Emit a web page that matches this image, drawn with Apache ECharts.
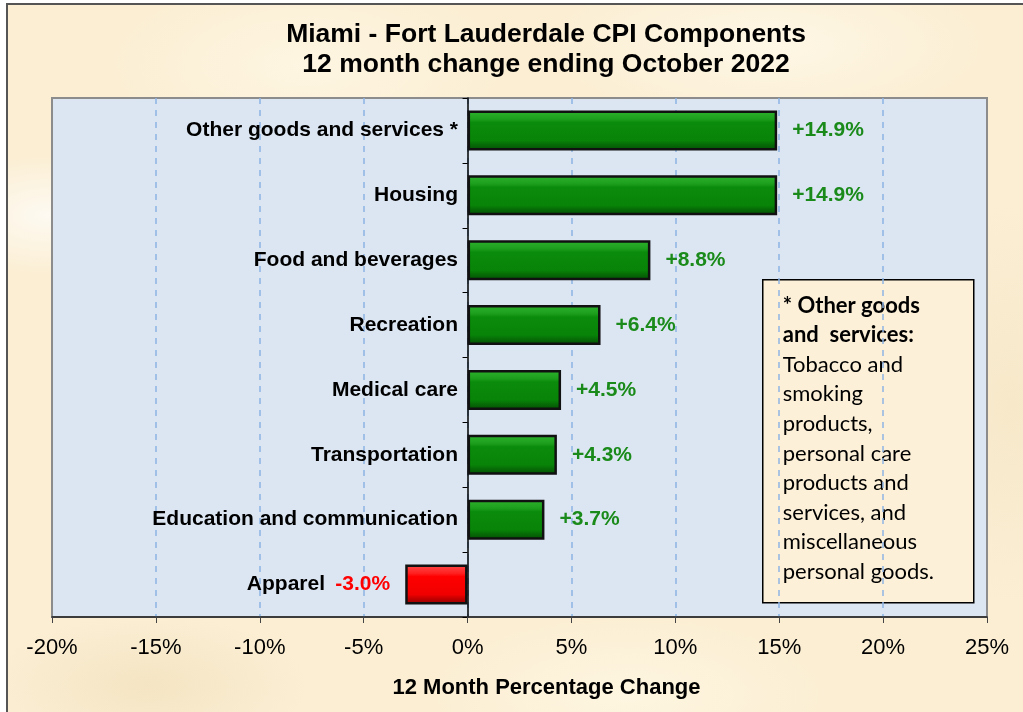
<!DOCTYPE html>
<html>
<head>
<meta charset="utf-8">
<script src="https://cdn.jsdelivr.net/npm/echarts@6/dist/echarts.min.js"></script>
<style>
  html, body { margin: 0; padding: 0; background: #fff; overflow: hidden; }
  #bg {
    position: absolute; left: 6px; top: 3px; width: 1100px; height: 800px;
    border-left: 2px solid #555; border-top: 2px solid #555;
    background-color: #fbeed3;
    background-image:
      radial-gradient(ellipse 120px 60px at 40px 210px, rgba(255,255,255,0.7), rgba(255,255,255,0)),
      radial-gradient(ellipse 200px 90px at 300px 60px, rgba(255,248,230,0.8), rgba(255,255,255,0)),
      radial-gradient(ellipse 220px 80px at 760px 40px, rgba(255,250,235,0.8), rgba(255,255,255,0)),
      radial-gradient(ellipse 160px 70px at 140px 680px, rgba(240,222,185,0.6), rgba(255,255,255,0)),
      radial-gradient(ellipse 200px 80px at 620px 690px, rgba(255,248,228,0.8), rgba(255,255,255,0)),
      radial-gradient(ellipse 120px 200px at 1005px 400px, rgba(244,228,195,0.6), rgba(255,255,255,0));
  }
  #main { position: absolute; left: 0; top: 0; width: 1023px; height: 712px; }
</style>
</head>
<body>
<div id="bg"></div>
<div id="main"></div>
<script>
  // 数据
  const categories = [
    'Other goods and services *',
    'Housing',
    'Food and beverages',
    'Recreation',
    'Medical care',
    'Transportation',
    'Education and communication',
    'Apparel'
  ];
  const changes = [14.9, 14.9, 8.8, 6.4, 4.5, 4.3, 3.7, -3.0];
  const noteLines = [
    '* Other goods', 'and  services:',
    'Tobacco and', 'smoking', 'products,', 'personal care',
    'products and', 'services, and', 'miscellaneous', 'personal goods.'
  ];

  const FONT = '"Liberation Sans", Arial, sans-serif';

  const greenFill = new echarts.graphic.LinearGradient(0, 0, 0, 1, [
    {offset: 0, color: '#2fb52f'},
    {offset: 0.22, color: '#1c9e1c'},
    {offset: 0.3, color: '#0b8b0b'},
    {offset: 0.75, color: '#088408'},
    {offset: 0.85, color: '#066c06'},
    {offset: 1, color: '#044f04'}
  ]);
  const redFill = new echarts.graphic.LinearGradient(0, 0, 0, 1, [
    {offset: 0, color: '#ff4a4a'},
    {offset: 0.22, color: '#ff2020'},
    {offset: 0.3, color: '#ff0000'},
    {offset: 0.75, color: '#f00000'},
    {offset: 0.85, color: '#c40000'},
    {offset: 1, color: '#8e0000'}
  ]);

  /* 方法：格式化数值标签 */
  function fmtPct(v) {
    return (v > 0 ? '+' : '') + v.toFixed(1) + '%';
  }

  const barData = changes.map(v => ({
    value: v,
    itemStyle: {color: v < 0 ? redFill : greenFill},
    label: {
      position: v < 0 ? 'left' : 'right',
      color: v < 0 ? '#ff0000' : '#1a8a1a'
    }
  }));

  const noteText = noteLines.map((t, i) => (i < 2 ? '{b|' : '{n|') + t + '}').join('\n');

  const chart = echarts.init(document.getElementById('main'), null, {renderer: 'canvas'});
  chart.setOption({
    backgroundColor: 'transparent',
    animation: false,
    title: {
      text: 'Miami - Fort Lauderdale CPI Components\n12 month change ending October 2022',
      left: 546,
      top: 20,
      padding: 0,
      textAlign: 'center',
      textStyle: {
        fontFamily: FONT, fontSize: 26.5, fontWeight: 'bold', color: '#000', lineHeight: 30
      }
    },
    grid: {
      left: 52, right: 36, top: 98, bottom: 95,
      containLabel: false,
      outerBoundsMode: 'none',
      show: true,
      backgroundColor: '#dce6f2',
      borderColor: '#8c8c8c',
      borderWidth: 2
    },
    xAxis: {
      type: 'value',
      min: -20, max: 25, interval: 5,
      name: '12 Month Percentage Change',
      nameLocation: 'middle',
      nameGap: 60,
      nameTextStyle: {
        fontFamily: FONT, fontSize: 22, fontWeight: 'bold', color: '#000', padding: [0, 0, 0, 54]
      },
      axisLine: {show: true, lineStyle: {color: '#222', width: 1.5}},
      axisTick: {show: true, length: 6, lineStyle: {color: '#444'}},
      axisLabel: {
        formatter: '{value}%', fontFamily: FONT, fontSize: 22, color: '#000', margin: 20
      },
      splitLine: {
        show: true, showMinLine: false, showMaxLine: false,
        lineStyle: {color: '#8db4e3', width: 1.5, type: [6, 6]}
      }
    },
    yAxis: {
      type: 'category',
      data: categories,
      inverse: true,
      axisLine: {onZero: true, lineStyle: {color: '#000', width: 1.5}},
      axisTick: {show: true, length: 5, lineStyle: {color: '#000'}},
      axisLabel: {
        // 标签贴在 0% 线左侧
        fontFamily: FONT, fontSize: 21, fontWeight: 'bold', color: '#000', margin: -406,
        formatter: (value, index) => changes[index] < 0 ? '{neg|' + value + '}' : value,
        rich: {
          neg: {fontFamily: FONT, fontSize: 21, fontWeight: 'bold', color: '#000', padding: [0, 133, 0, 0]}
        }
      },
      splitLine: {show: false}
    },
    series: [{
      type: 'bar',
      data: barData,
      barWidth: 40,
      itemStyle: {borderColor: '#111', borderWidth: 2.5},
      label: {
        show: true,
        distance: 15,
        fontFamily: FONT, fontSize: 21, fontWeight: 'bold',
        formatter: p => fmtPct(p.value)
      }
    }],
    graphic: [{
      type: 'group',
      left: 762, top: 279,
      children: [{
        type: 'rect',
        shape: {x: 0, y: 0, width: 211, height: 323},
        style: {fill: '#fcf0d8', stroke: '#000', lineWidth: 1.5}
      }, {
        type: 'text',
        x: 20, y: 11,
        style: {
          text: noteText,
          fill: '#000',
          rich: {
            b: {fontFamily: 'Lato, "Open Sans", sans-serif', fontSize: 22, fontWeight: 'bold', lineHeight: 29.6, fill: '#000'},
            n: {fontFamily: 'Lato, "Open Sans", sans-serif', fontSize: 22, lineHeight: 29.6, fill: '#000'}
          }
        }
      }]
    }]
  });
</script>
</body>
</html>
